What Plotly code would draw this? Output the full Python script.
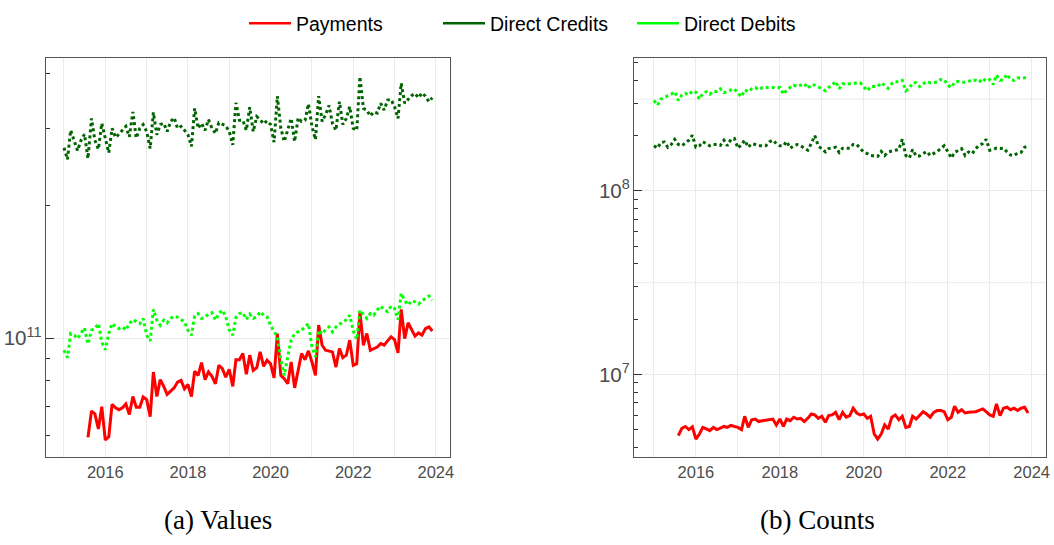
import numpy as np
import pandas as pd
import plotly.graph_objects as go

# ---------------- data ----------------
months_direct = pd.date_range("2015-01-01", periods=108, freq="MS")
months_payments = pd.date_range("2015-08-01", periods=101, freq="MS")

series_names = ["Payments", "Direct Credits", "Direct Debits"]
series_colors = ["#FF0000", "#006400", "#00FF00"]

# (a) Values
payments_value_e10 = [
    5.95, 6.83, 6.73, 6.22, 6.99,
    5.87, 5.97, 7.07, 6.95, 6.88, 6.95, 7.09, 6.71, 7.37, 6.97, 6.97, 7.35,
    7.25, 6.63, 8.38, 7.37, 8.05, 7.77, 7.45, 7.58, 7.71, 7.95, 8.02, 7.67,
    7.85, 7.37, 8.42, 8.23, 8.80, 8.05, 8.38, 8.19, 7.88, 8.68, 8.53, 8.16,
    8.50, 7.77, 8.94, 8.94, 9.23, 8.28, 9.15, 8.45, 8.57, 9.31, 8.63, 8.91,
    8.75, 8.13, 10.25, 8.23, 8.09, 7.88, 8.83, 7.71, 8.53, 9.23, 8.94, 9.36,
    8.83, 8.23, 10.71, 9.64, 9.39, 9.36, 9.31, 8.60, 9.47, 9.03, 9.15, 9.90,
    8.68, 8.75, 11.48, 9.63, 10.25, 9.39, 9.47, 9.55, 9.72, 9.64, 9.86, 10.07,
    9.93, 9.26, 11.63, 9.98, 10.84, 10.43, 10.11, 10.28, 10.16, 10.52, 10.61, 10.39,
]
direct_credits_value_e11 = [
    2.71, 2.55, 2.97, 2.82, 2.67, 2.82, 2.91, 2.56, 3.16, 2.82, 2.69, 3.08,
    2.87, 2.64, 3.00, 2.86, 2.91, 2.97, 3.03, 2.87, 3.27, 2.85, 3.00, 3.06,
    2.95, 2.70, 3.26, 2.90, 3.06, 3.08, 2.95, 3.11, 3.17, 3.00, 3.03, 2.97,
    2.90, 2.73, 3.33, 3.00, 3.08, 2.97, 3.14, 3.00, 2.92, 3.09, 3.06, 3.04,
    2.95, 2.75, 3.43, 3.13, 3.13, 2.97, 3.35, 2.95, 3.19, 3.14, 3.07, 3.12,
    3.06, 2.79, 3.55, 3.00, 2.80, 2.97, 3.16, 2.80, 3.17, 3.11, 3.13, 3.41,
    3.03, 2.83, 3.55, 3.11, 3.22, 3.38, 3.08, 2.97, 3.45, 3.06, 3.16, 3.36,
    3.00, 2.97, 3.93, 3.33, 3.30, 3.20, 3.27, 3.25, 3.42, 3.30, 3.48, 3.49,
    3.36, 3.16, 3.80, 3.42, 3.48, 3.56, 3.60, 3.52, 3.61, 3.55, 3.45, 3.52,
]
direct_debits_value_e10 = [
    9.39, 9.04, 10.25, 10.16, 9.98, 10.28, 10.56, 9.70, 10.43, 10.52, 10.80, 9.81,
    9.42, 10.25, 10.80, 10.61, 10.52, 10.61, 10.43, 10.80, 11.03, 10.90, 10.80, 11.09,
    10.16, 9.86, 11.63, 10.99, 10.70, 10.99, 10.84, 11.09, 11.23, 11.16, 11.03, 10.90,
    10.43, 10.16, 11.23, 11.38, 11.09, 11.16, 11.35, 11.43, 10.99, 11.38, 11.59, 11.19,
    10.43, 10.16, 11.16, 11.38, 11.43, 11.03, 11.35, 11.09, 11.19, 11.49, 11.28, 11.19,
    10.70, 10.39, 10.07, 8.91, 8.23, 9.07, 9.90, 10.25, 10.34, 10.43, 10.61, 10.80,
    9.55, 9.07, 10.43, 10.22, 10.46, 10.61, 10.34, 10.61, 10.77, 10.84, 11.03, 11.28,
    10.39, 9.93, 11.59, 11.35, 11.09, 11.38, 11.28, 11.59, 11.83, 11.59, 11.49, 11.83,
    11.69, 11.03, 12.65, 12.17, 11.90, 12.17, 12.10, 11.96, 12.17, 12.31, 12.47, 12.21,
]

# (b) Counts
payments_count_e6 = [
    4.64, 5.09, 5.21, 5.01, 5.19,
    4.45, 4.74, 5.15, 5.05, 4.94, 5.15, 5.01, 5.11, 5.21, 5.15, 5.28, 5.21,
    5.15, 5.01, 5.92, 5.15, 5.67, 5.72, 5.54, 5.60, 5.63, 5.67, 5.72, 5.31,
    5.72, 5.21, 5.72, 5.60, 5.85, 5.72, 5.77, 5.54, 5.77, 6.09, 6.02, 5.77,
    5.92, 5.49, 5.97, 6.02, 6.22, 5.67, 6.22, 5.85, 5.97, 6.55, 6.17, 6.02,
    6.09, 5.77, 5.92, 4.74, 4.45, 4.74, 5.31, 5.05, 5.85, 6.02, 5.67, 5.92,
    5.15, 5.21, 5.92, 5.72, 5.97, 6.27, 6.09, 5.85, 6.22, 6.36, 6.36, 6.27,
    5.67, 5.85, 6.71, 6.22, 6.43, 6.17, 6.22, 6.27, 6.27, 6.38, 6.49, 6.27,
    6.02, 5.92, 6.91, 5.97, 6.55, 6.63, 6.43, 6.55, 6.36, 6.55, 6.63, 6.17,
]
direct_credits_count_e8 = [
    1.76, 1.71, 1.83, 1.85, 1.73, 1.79, 1.91, 1.79, 1.76, 1.83, 1.89, 2.01,
    1.73, 1.76, 1.85, 1.81, 1.76, 1.79, 1.79, 1.77, 1.89, 1.76, 1.91, 1.93,
    1.71, 1.79, 1.89, 1.73, 1.81, 1.79, 1.76, 1.76, 1.76, 1.85, 1.89, 1.81,
    1.76, 1.76, 1.86, 1.71, 1.76, 1.79, 1.76, 1.71, 1.665, 1.81, 2.00, 1.76,
    1.70, 1.63, 1.70, 1.71, 1.73, 1.62, 1.71, 1.71, 1.71, 1.79, 1.79, 1.70,
    1.63, 1.595, 1.56, 1.55, 1.54, 1.64, 1.56, 1.63, 1.64, 1.665, 1.68, 1.91,
    1.56, 1.51, 1.68, 1.55, 1.55, 1.595, 1.64, 1.56, 1.595, 1.64, 1.70, 1.76,
    1.64, 1.51, 1.62, 1.665, 1.70, 1.56, 1.63, 1.595, 1.70, 1.77, 1.81, 1.91,
    1.665, 1.68, 1.71, 1.70, 1.71, 1.63, 1.57, 1.56, 1.61, 1.62, 1.73, 1.76,
]
direct_debits_count_e8 = [
    3.11, 2.93, 3.16, 3.23, 3.30, 3.36, 3.47, 3.11, 3.33, 3.40, 3.33, 3.50,
    3.45, 3.16, 3.40, 3.47, 3.36, 3.50, 3.47, 3.60, 3.43, 3.47, 3.55, 3.60,
    3.40, 3.26, 3.55, 3.47, 3.60, 3.66, 3.55, 3.66, 3.66, 3.66, 3.66, 3.62,
    3.66, 3.36, 3.55, 3.66, 3.77, 3.70, 3.77, 3.84, 3.62, 3.80, 3.77, 3.70,
    3.60, 3.51, 3.66, 3.77, 3.95, 3.60, 3.84, 3.80, 3.84, 3.84, 3.88, 3.88,
    3.70, 3.51, 3.70, 3.70, 3.70, 3.88, 3.77, 3.62, 3.84, 3.95, 3.91, 4.00,
    3.51, 3.62, 3.88, 3.88, 3.70, 3.84, 3.95, 3.88, 3.88, 3.91, 4.04, 4.04,
    3.77, 3.66, 3.91, 3.95, 3.91, 3.91, 3.95, 4.04, 4.00, 3.91, 4.10, 3.95,
    4.04, 3.80, 4.28, 4.00, 4.04, 4.32, 4.04, 4.00, 4.13, 4.10, 4.13, 4.13,
]

captions = ["(a) Values", "(b) Counts"]

for arr in (direct_credits_value_e11, direct_debits_value_e10,
            direct_credits_count_e8, direct_debits_count_e8):
    assert len(arr) == len(months_direct)
for arr in (payments_value_e10, payments_count_e6):
    assert len(arr) == len(months_payments)

# ---------------- figure ----------------
fig = go.Figure()

LW = 3
panels = [
    ("x", "y", [np.array(payments_value_e10) * 1e10,
                np.array(direct_credits_value_e11) * 1e11,
                np.array(direct_debits_value_e10) * 1e10]),
    ("x2", "y2", [np.array(payments_count_e6) * 1e6,
                  np.array(direct_credits_count_e8) * 1e8,
                  np.array(direct_debits_count_e8) * 1e8]),
]
for xa, ya, vals in panels:
    for i, (name, color, v) in enumerate(zip(series_names, series_colors, vals)):
        xs = months_payments if i == 0 else months_direct
        fig.add_trace(go.Scatter(
            x=xs, y=v, mode="lines", name=name, showlegend=False,
            line=dict(color=color, width=LW, dash="solid" if i == 0 else "dot"),
            xaxis=xa, yaxis=ya, hoverinfo="skip"))

# legend entries (solid keys)
for name, color in zip(series_names, series_colors):
    fig.add_trace(go.Scatter(x=[None], y=[None], mode="lines", name=name,
                             line=dict(color=color, width=2.5),
                             xaxis="x", yaxis="y", showlegend=True))

TICKFONT = dict(family="Liberation Sans, Arial, sans-serif", size=16.5, color="#4D4D4D")
GRID = "#EBEBEB"
LINE = "#555555"

xcommon = dict(type="date", dtick="M24", tick0="2016-01-01", tickformat="%Y",
               showgrid=True, gridcolor=GRID, gridwidth=1,
               minor=dict(dtick="M12", tick0="2015-01-01", showgrid=True,
                          gridcolor=GRID, gridwidth=1),
               showline=True, mirror=True, linecolor=LINE, linewidth=1.3,
               ticks="", tickfont=TICKFONT, zeroline=False)
ycommon = dict(type="log", dtick=1, exponentformat="power", showexponent="all",
               showgrid=True, gridcolor=GRID, gridwidth=1,
               ticks="inside", ticklen=8, tickwidth=1.2, tickcolor="#333333",
               minor=dict(ticks="inside", ticklen=3.5, dtick="D1", tickwidth=1,
                          tickcolor="#333333", showgrid=False),
               showline=True, mirror=True, linecolor=LINE, linewidth=1.3,
               tickfont=TICKFONT, zeroline=False)

fig.update_layout(
    width=1054, height=545,
    margin=dict(l=45, r=4, t=58, b=88),
    paper_bgcolor="white", plot_bgcolor="white",
    xaxis=dict(domain=[0, 0.4043], range=["2014-07-26", "2024-05-08"], anchor="y", **xcommon),
    xaxis2=dict(domain=[0.5883, 1.0], range=["2014-07-14", "2024-05-05"], anchor="y2", **xcommon),
    yaxis=dict(range=[10.730, 11.637], anchor="x", **ycommon),
    yaxis2=dict(range=[6.5505, 8.724], anchor="x2", **ycommon),
    legend=dict(orientation="h", xref="container", yref="container",
                x=244 / 1054, xanchor="left", y=1 - 4 / 545, yanchor="top",
                font=dict(family="Liberation Sans, Arial, sans-serif", size=19.5, color="black"),
                itemwidth=42, entrywidth=137, entrywidthmode="pixels",
                bgcolor="rgba(0,0,0,0)", traceorder="normal"),
    showlegend=True,
)

# ggplot-style minor gridlines at half decades on the counts panel
for e in (7.5, 8.5):
    fig.add_shape(type="line", xref="x2 domain", x0=0, x1=1, yref="y2",
                  y0=10 ** e, y1=10 ** e, layer="below",
                  line=dict(color=GRID, width=1))

for cap, cx in zip(captions, [(218 - 45) / 1005, (820 - 45) / 1005]):
    fig.add_annotation(text=cap, xref="paper", yref="paper", x=cx, y=(457 - 520) / 399,
                       xanchor="center", yanchor="middle", showarrow=False,
                       font=dict(family="Liberation Serif, serif", size=27, color="black"))

fig.write_html("out.html", config={"displayModeBar": False},
               post_script="document.body.style.margin='0';")
